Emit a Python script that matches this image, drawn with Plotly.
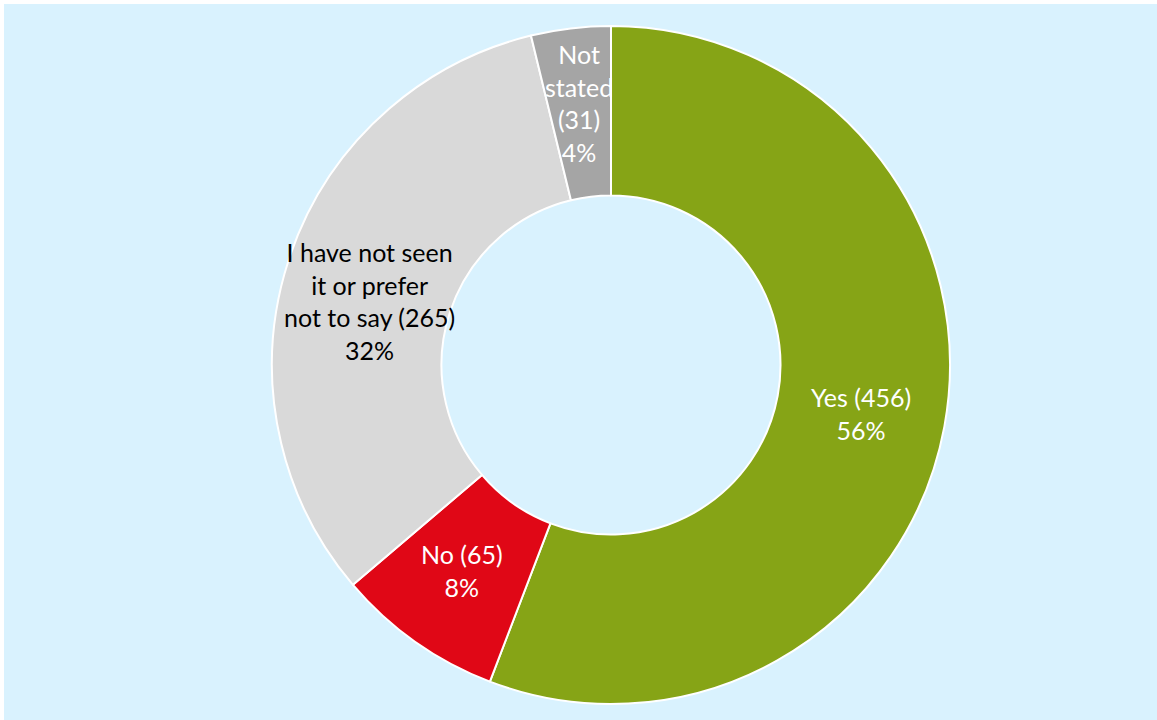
import math
import plotly.graph_objects as go

# Survey responses
categories = ["Yes", "No", "I have not seen it or prefer not to say", "Not stated"]
counts = [456, 65, 265, 31]
label_lines = [
    ["Yes (456)"],
    ["No (65)"],
    ["I have not seen", "it or prefer", "not to say (265)"],
    ["Not", "stated", "(31)"],
]
colors = ["#86A416", "#E00716", "#D9D9D9", "#A5A5A5"]
text_colors = ["white", "white", "black", "white"]
# small pixel nudges for label placement (dx, dy)
label_nudge = [(0, 2), (-2, -2), (0, 14), (-2, -10)]

W, H = 1157, 720
BG = "#D9F2FE"

# Donut geometry in pixels
cx, cy, r_out = 611, 365, 339
hole = 0.5

fig = go.Figure()
fig.add_trace(go.Pie(
    labels=categories,
    values=counts,
    sort=False,
    direction="clockwise",
    rotation=0,
    hole=hole,
    marker=dict(colors=colors, line=dict(color="white", width=2)),
    textinfo="none",
    hoverinfo="label+value+percent",
    showlegend=False,
    domain=dict(
        x=[(cx - r_out) / W, (cx + r_out) / W],
        y=[1 - (cy + r_out) / H, 1 - (cy - r_out) / H],
    ),
))

# Slice labels at the middle of each ring segment
total = sum(counts)
r_mid = r_out * (1 + hole) / 2
cum = 0
annotations = []
for cnt, lines, tc, (ndx, ndy) in zip(counts, label_lines, text_colors, label_nudge):
    frac = cnt / total
    mid = (cum + frac / 2) * 2 * math.pi
    cum += frac
    px = cx + r_mid * math.sin(mid) + ndx
    py = cy - r_mid * math.cos(mid) + ndy
    pct = f"{round(frac * 100)}%"
    annotations.append(dict(
        x=px / W, y=1 - py / H, xref="paper", yref="paper",
        text="<br>".join(lines + [pct]),
        showarrow=False, xanchor="center", yanchor="middle",
        font=dict(family="Lato", size=25, color=tc),
        align="center",
    ))

fig.update_layout(
    width=W, height=H,
    margin=dict(l=0, r=0, t=0, b=0),
    paper_bgcolor="white",
    annotations=annotations,
    shapes=[dict(
        type="rect", xref="paper", yref="paper", layer="below",
        x0=4 / W, x1=1, y0=0, y1=1 - 4 / H,
        fillcolor=BG, line=dict(width=0),
    )],
)

fig.write_html("out.html")
